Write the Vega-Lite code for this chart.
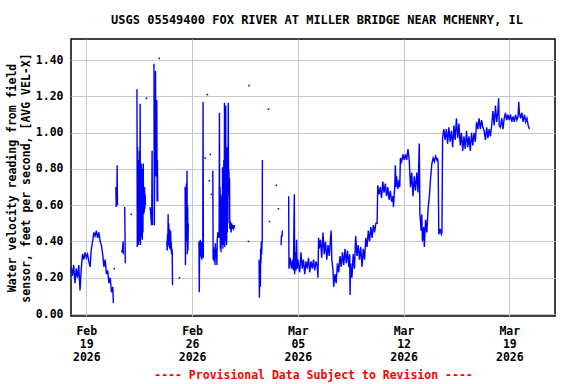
{
  "$schema": "https://vega.github.io/schema/vega-lite/v6.json",
  "autosize": "none",
  "width": 484,
  "height": 277,
  "padding": {"left": 71, "top": 39, "right": 21, "bottom": 68},
  "background": "white",
  "title": {
    "text": "USGS 05549400 FOX RIVER AT MILLER BRIDGE NEAR MCHENRY, IL",
    "font": "DejaVu Sans Mono", "fontSize": 12, "fontWeight": "bold", "color": "#000",
    "anchor": "middle", "offset": 12, "dx": 4
  },
  "config": {
    "view": {"stroke": "#000", "strokeWidth": 1.5},
    "axis": {
      "labelFont": "DejaVu Sans Mono", "labelFontWeight": "bold", "labelFontSize": 11.5, "labelColor": "#000",
      "titleFont": "DejaVu Sans Mono", "titleFontWeight": "bold", "titleFontSize": 11.5, "titleColor": "#000",
      "gridColor": "#c8c8c8", "gridWidth": 1, "domain": false, "ticks": false
    }
  },
  "datasets": {
    "series": [
      {"t":"2026-02-18T00:00Z","v":0.26,"s":1},{"t":"2026-02-18T02:00Z","v":0.21,"s":1},{"t":"2026-02-18T04:00Z","v":0.27,"s":1},{"t":"2026-02-18T06:00Z","v":0.17,"s":1},{"t":"2026-02-18T08:00Z","v":0.25,"s":1},{"t":"2026-02-18T10:00Z","v":0.20,"s":1},{"t":"2026-02-18T12:00Z","v":0.27,"s":1},{"t":"2026-02-18T14:00Z","v":0.13,"s":1},{"t":"2026-02-18T16:00Z","v":0.25,"s":1},{"t":"2026-02-18T18:00Z","v":0.33,"s":1},{"t":"2026-02-18T20:00Z","v":0.30,"s":1},{"t":"2026-02-18T22:00Z","v":0.34,"s":1},
      {"t":"2026-02-19T00:00Z","v":0.31,"s":1},{"t":"2026-02-19T02:00Z","v":0.33,"s":1},{"t":"2026-02-19T04:00Z","v":0.29,"s":1},{"t":"2026-02-19T06:00Z","v":0.26,"s":1},{"t":"2026-02-19T08:00Z","v":0.36,"s":1},{"t":"2026-02-19T10:00Z","v":0.40,"s":1},{"t":"2026-02-19T12:00Z","v":0.45,"s":1},{"t":"2026-02-19T14:00Z","v":0.43,"s":1},{"t":"2026-02-19T16:00Z","v":0.46,"s":1},{"t":"2026-02-19T18:00Z","v":0.42,"s":1},{"t":"2026-02-19T20:00Z","v":0.45,"s":1},{"t":"2026-02-19T22:00Z","v":0.40,"s":1},
      {"t":"2026-02-20T00:00Z","v":0.38,"s":1},{"t":"2026-02-20T02:00Z","v":0.33,"s":1},{"t":"2026-02-20T04:00Z","v":0.26,"s":1},{"t":"2026-02-20T06:00Z","v":0.30,"s":1},{"t":"2026-02-20T08:00Z","v":0.22,"s":1},{"t":"2026-02-20T10:00Z","v":0.24,"s":1},{"t":"2026-02-20T12:00Z","v":0.17,"s":1},{"t":"2026-02-20T14:00Z","v":0.20,"s":1},{"t":"2026-02-20T16:00Z","v":0.12,"s":1},{"t":"2026-02-20T18:00Z","v":0.15,"s":1},{"t":"2026-02-20T19:00Z","v":0.06,"s":1},
      {"t":"2026-02-20T23:00Z","v":0.70,"s":2},{"t":"2026-02-20T23:30Z","v":0.59,"s":2},{"t":"2026-02-21T00:00Z","v":0.69,"s":2},{"t":"2026-02-21T00:30Z","v":0.60,"s":2},{"t":"2026-02-21T01:00Z","v":0.82,"s":2},{"t":"2026-02-21T01:30Z","v":0.60,"s":2},
      {"t":"2026-02-21T08:00Z","v":0.35,"s":3},{"t":"2026-02-21T09:00Z","v":0.34,"s":3},{"t":"2026-02-21T10:00Z","v":0.37,"s":3},{"t":"2026-02-21T10:30Z","v":0.40,"s":3},{"t":"2026-02-21T11:00Z","v":0.33,"s":3},
      {"t":"2026-02-21T13:00Z","v":0.59,"s":4},{"t":"2026-02-21T14:00Z","v":0.28,"s":4},
      {"t":"2026-02-22T08:30Z","v":1.24,"s":5},{"t":"2026-02-22T09:00Z","v":0.37,"s":5},{"t":"2026-02-22T09:30Z","v":0.92,"s":5},{"t":"2026-02-22T10:00Z","v":0.40,"s":5},{"t":"2026-02-22T10:30Z","v":0.85,"s":5},{"t":"2026-02-22T11:00Z","v":0.38,"s":5},{"t":"2026-02-22T11:30Z","v":0.75,"s":5},{"t":"2026-02-22T12:00Z","v":0.42,"s":5},{"t":"2026-02-22T12:30Z","v":0.90,"s":5},{"t":"2026-02-22T13:00Z","v":0.40,"s":5},{"t":"2026-02-22T13:30Z","v":1.16,"s":5},{"t":"2026-02-22T14:00Z","v":0.38,"s":5},{"t":"2026-02-22T14:30Z","v":0.80,"s":5},{"t":"2026-02-22T15:00Z","v":0.45,"s":5},{"t":"2026-02-22T15:30Z","v":0.83,"s":5},{"t":"2026-02-22T16:00Z","v":0.42,"s":5},{"t":"2026-02-22T16:30Z","v":0.76,"s":5},{"t":"2026-02-22T17:00Z","v":0.41,"s":5},{"t":"2026-02-22T17:30Z","v":0.80,"s":5},{"t":"2026-02-22T18:00Z","v":0.45,"s":5},{"t":"2026-02-22T18:30Z","v":0.83,"s":5},{"t":"2026-02-22T19:00Z","v":0.55,"s":5},{"t":"2026-02-22T19:30Z","v":0.70,"s":5},{"t":"2026-02-22T20:00Z","v":0.56,"s":5},{"t":"2026-02-22T20:30Z","v":0.70,"s":5},{"t":"2026-02-22T21:00Z","v":0.58,"s":5},{"t":"2026-02-22T21:30Z","v":0.66,"s":5},{"t":"2026-02-22T22:00Z","v":0.60,"s":5},
      {"t":"2026-02-23T05:00Z","v":0.59,"s":6},{"t":"2026-02-23T06:00Z","v":0.57,"s":6},{"t":"2026-02-23T07:00Z","v":0.52,"s":6},{"t":"2026-02-23T07:30Z","v":0.49,"s":6},{"t":"2026-02-23T08:00Z","v":0.55,"s":6},{"t":"2026-02-23T08:30Z","v":0.90,"s":6},{"t":"2026-02-23T09:00Z","v":0.49,"s":6},
      {"t":"2026-02-23T11:30Z","v":1.38,"s":7},{"t":"2026-02-23T12:00Z","v":0.49,"s":7},{"t":"2026-02-23T12:30Z","v":0.75,"s":7},{"t":"2026-02-23T13:00Z","v":0.98,"s":7},{"t":"2026-02-23T13:30Z","v":0.76,"s":7},{"t":"2026-02-23T14:00Z","v":1.34,"s":7},{"t":"2026-02-23T14:30Z","v":0.78,"s":7},{"t":"2026-02-23T15:00Z","v":0.95,"s":7},{"t":"2026-02-23T15:30Z","v":0.76,"s":7},{"t":"2026-02-23T16:00Z","v":1.18,"s":7},{"t":"2026-02-23T16:30Z","v":0.62,"s":7},{"t":"2026-02-23T17:00Z","v":0.85,"s":7},{"t":"2026-02-23T17:30Z","v":0.62,"s":7},
      {"t":"2026-02-24T08:00Z","v":0.40,"s":8},{"t":"2026-02-24T08:30Z","v":0.35,"s":8},{"t":"2026-02-24T09:00Z","v":0.44,"s":8},{"t":"2026-02-24T09:30Z","v":0.37,"s":8},{"t":"2026-02-24T10:00Z","v":0.55,"s":8},{"t":"2026-02-24T10:30Z","v":0.40,"s":8},{"t":"2026-02-24T11:00Z","v":0.50,"s":8},{"t":"2026-02-24T11:30Z","v":0.38,"s":8},{"t":"2026-02-24T12:00Z","v":0.47,"s":8},{"t":"2026-02-24T12:30Z","v":0.36,"s":8},{"t":"2026-02-24T13:00Z","v":0.45,"s":8},{"t":"2026-02-24T13:30Z","v":0.38,"s":8},{"t":"2026-02-24T14:00Z","v":0.46,"s":8},{"t":"2026-02-24T14:30Z","v":0.35,"s":8},{"t":"2026-02-24T15:00Z","v":0.40,"s":8},{"t":"2026-02-24T15:30Z","v":0.33,"s":8},{"t":"2026-02-24T16:00Z","v":0.36,"s":8},{"t":"2026-02-24T16:30Z","v":0.34,"s":8},{"t":"2026-02-24T17:00Z","v":0.16,"s":8},
      {"t":"2026-02-25T13:00Z","v":0.70,"s":9},{"t":"2026-02-25T13:30Z","v":0.27,"s":9},{"t":"2026-02-25T14:00Z","v":0.62,"s":9},{"t":"2026-02-25T14:30Z","v":0.45,"s":9},{"t":"2026-02-25T15:00Z","v":0.72,"s":9},{"t":"2026-02-25T15:30Z","v":0.40,"s":9},{"t":"2026-02-25T16:00Z","v":0.79,"s":9},{"t":"2026-02-25T16:30Z","v":0.33,"s":9},{"t":"2026-02-25T17:00Z","v":0.60,"s":9},{"t":"2026-02-25T17:30Z","v":0.35,"s":9},{"t":"2026-02-25T18:00Z","v":0.50,"s":9},
      {"t":"2026-02-26T11:00Z","v":0.40,"s":10},{"t":"2026-02-26T11:30Z","v":0.12,"s":10},{"t":"2026-02-26T12:00Z","v":0.38,"s":10},{"t":"2026-02-26T12:30Z","v":0.32,"s":10},{"t":"2026-02-26T13:00Z","v":0.41,"s":10},{"t":"2026-02-26T13:30Z","v":0.33,"s":10},{"t":"2026-02-26T14:00Z","v":0.38,"s":10},{"t":"2026-02-26T14:30Z","v":0.31,"s":10},{"t":"2026-02-26T15:00Z","v":0.40,"s":10},{"t":"2026-02-26T15:30Z","v":0.30,"s":10},{"t":"2026-02-26T16:00Z","v":0.34,"s":10},{"t":"2026-02-26T17:00Z","v":0.31,"s":10},{"t":"2026-02-26T17:30Z","v":1.17,"s":10},{"t":"2026-02-26T18:00Z","v":0.31,"s":10},
      {"t":"2026-02-27T09:00Z","v":0.79,"s":11},{"t":"2026-02-27T09:30Z","v":0.30,"s":11},{"t":"2026-02-27T10:00Z","v":0.37,"s":11},{"t":"2026-02-27T11:00Z","v":0.29,"s":11},{"t":"2026-02-27T12:00Z","v":0.36,"s":11},{"t":"2026-02-27T12:30Z","v":0.27,"s":11},{"t":"2026-02-27T13:00Z","v":0.39,"s":11},{"t":"2026-02-27T14:00Z","v":0.31,"s":11},{"t":"2026-02-27T15:00Z","v":0.36,"s":11},{"t":"2026-02-27T15:30Z","v":0.27,"s":11},{"t":"2026-02-27T16:00Z","v":0.41,"s":11},{"t":"2026-02-27T17:00Z","v":0.45,"s":11},{"t":"2026-02-27T18:00Z","v":0.42,"s":11},{"t":"2026-02-27T19:00Z","v":0.44,"s":11},{"t":"2026-02-27T19:30Z","v":1.11,"s":11},{"t":"2026-02-27T20:00Z","v":0.42,"s":11},{"t":"2026-02-27T20:30Z","v":0.70,"s":11},{"t":"2026-02-27T21:00Z","v":0.36,"s":11},{"t":"2026-02-27T21:30Z","v":0.66,"s":11},{"t":"2026-02-27T22:00Z","v":0.34,"s":11},{"t":"2026-02-27T22:30Z","v":0.60,"s":11},{"t":"2026-02-27T23:00Z","v":0.38,"s":11},{"t":"2026-02-27T23:30Z","v":0.65,"s":11},
      {"t":"2026-02-28T00:00Z","v":0.40,"s":11},{"t":"2026-02-28T00:30Z","v":0.81,"s":11},{"t":"2026-02-28T01:00Z","v":0.36,"s":11},{"t":"2026-02-28T01:30Z","v":0.75,"s":11},{"t":"2026-02-28T02:00Z","v":0.42,"s":11},{"t":"2026-02-28T02:30Z","v":0.85,"s":11},{"t":"2026-02-28T03:00Z","v":0.38,"s":11},{"t":"2026-02-28T03:30Z","v":1.165,"s":11},{"t":"2026-02-28T04:00Z","v":0.37,"s":11},{"t":"2026-02-28T04:30Z","v":0.90,"s":11},{"t":"2026-02-28T05:00Z","v":0.40,"s":11},{"t":"2026-02-28T05:30Z","v":1.15,"s":11},{"t":"2026-02-28T06:00Z","v":0.45,"s":11},{"t":"2026-02-28T06:30Z","v":0.92,"s":11},{"t":"2026-02-28T07:00Z","v":0.38,"s":11},{"t":"2026-02-28T07:30Z","v":0.88,"s":11},{"t":"2026-02-28T08:00Z","v":0.45,"s":11},{"t":"2026-02-28T08:30Z","v":0.92,"s":11},{"t":"2026-02-28T09:00Z","v":0.50,"s":11},{"t":"2026-02-28T09:30Z","v":1.165,"s":11},{"t":"2026-02-28T10:00Z","v":0.66,"s":11},{"t":"2026-02-28T10:30Z","v":0.80,"s":11},{"t":"2026-02-28T11:00Z","v":0.66,"s":11},{"t":"2026-02-28T11:30Z","v":0.75,"s":11},{"t":"2026-02-28T12:00Z","v":0.47,"s":11},{"t":"2026-02-28T13:00Z","v":0.51,"s":11},{"t":"2026-02-28T14:00Z","v":0.45,"s":11},{"t":"2026-02-28T15:00Z","v":0.50,"s":11},{"t":"2026-02-28T16:00Z","v":0.47,"s":11},{"t":"2026-02-28T17:00Z","v":0.49,"s":11},{"t":"2026-02-28T18:00Z","v":0.47,"s":11},{"t":"2026-02-28T19:00Z","v":0.48,"s":11},{"t":"2026-02-28T19:30Z","v":0.49,"s":11},
      {"t":"2026-03-02T10:30Z","v":0.30,"s":12},{"t":"2026-03-02T11:00Z","v":0.09,"s":12},{"t":"2026-03-02T11:30Z","v":0.22,"s":12},{"t":"2026-03-02T12:00Z","v":0.26,"s":12},{"t":"2026-03-02T12:30Z","v":0.15,"s":12},{"t":"2026-03-02T13:00Z","v":0.36,"s":12},{"t":"2026-03-02T13:30Z","v":0.28,"s":12},{"t":"2026-03-02T14:00Z","v":0.40,"s":12},{"t":"2026-03-02T14:30Z","v":0.33,"s":12},{"t":"2026-03-02T15:00Z","v":0.38,"s":12},{"t":"2026-03-02T15:30Z","v":0.41,"s":12},{"t":"2026-03-02T15:45Z","v":0.85,"s":12},
      {"t":"2026-03-03T21:30Z","v":0.38,"s":13},{"t":"2026-03-03T22:00Z","v":0.43,"s":13},{"t":"2026-03-03T23:00Z","v":0.43,"s":13},{"t":"2026-03-03T23:30Z","v":0.46,"s":13},
      {"t":"2026-03-04T09:30Z","v":0.65,"s":14},{"t":"2026-03-04T10:00Z","v":0.25,"s":14},{"t":"2026-03-04T12:00Z","v":0.31,"s":14},{"t":"2026-03-04T14:00Z","v":0.25,"s":14},{"t":"2026-03-04T16:00Z","v":0.30,"s":14},{"t":"2026-03-04T17:00Z","v":0.24,"s":14},{"t":"2026-03-04T18:30Z","v":0.66,"s":14},{"t":"2026-03-04T19:00Z","v":0.22,"s":14},{"t":"2026-03-04T20:00Z","v":0.34,"s":14},{"t":"2026-03-04T21:00Z","v":0.24,"s":14},{"t":"2026-03-04T22:00Z","v":0.41,"s":14},{"t":"2026-03-04T23:00Z","v":0.25,"s":14},
      {"t":"2026-03-05T00:00Z","v":0.30,"s":14},{"t":"2026-03-05T03:00Z","v":0.23,"s":14},{"t":"2026-03-05T05:00Z","v":0.34,"s":14},{"t":"2026-03-05T07:00Z","v":0.25,"s":14},{"t":"2026-03-05T09:00Z","v":0.30,"s":14},{"t":"2026-03-05T11:00Z","v":0.22,"s":14},{"t":"2026-03-05T13:00Z","v":0.29,"s":14},{"t":"2026-03-05T15:00Z","v":0.25,"s":14},{"t":"2026-03-05T17:00Z","v":0.31,"s":14},{"t":"2026-03-05T19:00Z","v":0.23,"s":14},{"t":"2026-03-05T21:00Z","v":0.29,"s":14},{"t":"2026-03-05T23:00Z","v":0.25,"s":14},
      {"t":"2026-03-06T01:00Z","v":0.30,"s":14},{"t":"2026-03-06T03:00Z","v":0.24,"s":14},{"t":"2026-03-06T05:00Z","v":0.29,"s":14},{"t":"2026-03-06T07:00Z","v":0.26,"s":14},{"t":"2026-03-06T08:00Z","v":0.20,"s":14},{"t":"2026-03-06T09:00Z","v":0.42,"s":14},{"t":"2026-03-06T10:00Z","v":0.36,"s":14},{"t":"2026-03-06T12:00Z","v":0.41,"s":14},{"t":"2026-03-06T14:00Z","v":0.31,"s":14},{"t":"2026-03-06T16:00Z","v":0.45,"s":14},{"t":"2026-03-06T18:00Z","v":0.33,"s":14},{"t":"2026-03-06T20:00Z","v":0.40,"s":14},{"t":"2026-03-06T22:00Z","v":0.30,"s":14},
      {"t":"2026-03-07T00:00Z","v":0.38,"s":14},{"t":"2026-03-07T02:00Z","v":0.32,"s":14},{"t":"2026-03-07T04:00Z","v":0.42,"s":14},{"t":"2026-03-07T05:00Z","v":0.46,"s":14},{"t":"2026-03-07T06:00Z","v":0.30,"s":14},{"t":"2026-03-07T08:00Z","v":0.24,"s":14},{"t":"2026-03-07T09:00Z","v":0.15,"s":14},{"t":"2026-03-07T11:00Z","v":0.22,"s":14},{"t":"2026-03-07T13:00Z","v":0.17,"s":14},{"t":"2026-03-07T15:00Z","v":0.28,"s":14},{"t":"2026-03-07T17:00Z","v":0.23,"s":14},{"t":"2026-03-07T19:00Z","v":0.32,"s":14},{"t":"2026-03-07T21:00Z","v":0.26,"s":14},{"t":"2026-03-07T23:00Z","v":0.34,"s":14},
      {"t":"2026-03-08T01:00Z","v":0.27,"s":14},{"t":"2026-03-08T03:00Z","v":0.36,"s":14},{"t":"2026-03-08T05:00Z","v":0.28,"s":14},{"t":"2026-03-08T07:00Z","v":0.35,"s":14},{"t":"2026-03-08T09:00Z","v":0.26,"s":14},{"t":"2026-03-08T10:30Z","v":0.33,"s":14},{"t":"2026-03-08T11:00Z","v":0.105,"s":14},{"t":"2026-03-08T12:00Z","v":0.28,"s":14},{"t":"2026-03-08T14:00Z","v":0.20,"s":14},{"t":"2026-03-08T16:00Z","v":0.33,"s":14},{"t":"2026-03-08T18:00Z","v":0.25,"s":14},{"t":"2026-03-08T20:00Z","v":0.43,"s":14},{"t":"2026-03-08T22:00Z","v":0.32,"s":14},
      {"t":"2026-03-09T00:00Z","v":0.38,"s":14},{"t":"2026-03-09T02:00Z","v":0.30,"s":14},{"t":"2026-03-09T04:00Z","v":0.37,"s":14},{"t":"2026-03-09T06:00Z","v":0.26,"s":14},{"t":"2026-03-09T08:00Z","v":0.36,"s":14},{"t":"2026-03-09T10:00Z","v":0.30,"s":14},{"t":"2026-03-09T12:00Z","v":0.42,"s":14},{"t":"2026-03-09T14:00Z","v":0.37,"s":14},{"t":"2026-03-09T16:00Z","v":0.46,"s":14},{"t":"2026-03-09T18:00Z","v":0.40,"s":14},{"t":"2026-03-09T20:00Z","v":0.48,"s":14},{"t":"2026-03-09T22:00Z","v":0.42,"s":14},
      {"t":"2026-03-10T00:00Z","v":0.49,"s":14},{"t":"2026-03-10T02:00Z","v":0.45,"s":14},{"t":"2026-03-10T04:00Z","v":0.50,"s":14},{"t":"2026-03-10T06:00Z","v":0.50,"s":14},{"t":"2026-03-10T07:00Z","v":0.71,"s":14},{"t":"2026-03-10T09:00Z","v":0.66,"s":14},{"t":"2026-03-10T11:00Z","v":0.70,"s":14},{"t":"2026-03-10T13:00Z","v":0.64,"s":14},{"t":"2026-03-10T15:00Z","v":0.73,"s":14},{"t":"2026-03-10T17:00Z","v":0.67,"s":14},{"t":"2026-03-10T19:00Z","v":0.72,"s":14},{"t":"2026-03-10T21:00Z","v":0.65,"s":14},{"t":"2026-03-10T23:00Z","v":0.70,"s":14},
      {"t":"2026-03-11T01:00Z","v":0.63,"s":14},{"t":"2026-03-11T03:00Z","v":0.68,"s":14},{"t":"2026-03-11T05:00Z","v":0.62,"s":14},{"t":"2026-03-11T07:00Z","v":0.65,"s":14},{"t":"2026-03-11T08:00Z","v":0.59,"s":14},{"t":"2026-03-11T10:00Z","v":0.70,"s":14},{"t":"2026-03-11T11:00Z","v":0.82,"s":14},{"t":"2026-03-11T12:00Z","v":0.70,"s":14},{"t":"2026-03-11T13:00Z","v":0.76,"s":14},{"t":"2026-03-11T15:00Z","v":0.69,"s":14},{"t":"2026-03-11T17:00Z","v":0.74,"s":14},{"t":"2026-03-11T18:00Z","v":0.70,"s":14},{"t":"2026-03-11T19:00Z","v":0.86,"s":14},{"t":"2026-03-11T21:00Z","v":0.84,"s":14},{"t":"2026-03-11T23:00Z","v":0.88,"s":14},
      {"t":"2026-03-12T01:00Z","v":0.85,"s":14},{"t":"2026-03-12T03:00Z","v":0.88,"s":14},{"t":"2026-03-12T05:00Z","v":0.85,"s":14},{"t":"2026-03-12T07:00Z","v":0.91,"s":14},{"t":"2026-03-12T09:00Z","v":0.85,"s":14},{"t":"2026-03-12T11:00Z","v":0.70,"s":14},{"t":"2026-03-12T13:00Z","v":0.78,"s":14},{"t":"2026-03-12T15:00Z","v":0.65,"s":14},{"t":"2026-03-12T17:00Z","v":0.76,"s":14},{"t":"2026-03-12T19:00Z","v":0.68,"s":14},{"t":"2026-03-12T21:00Z","v":0.78,"s":14},{"t":"2026-03-12T23:00Z","v":0.67,"s":14},
      {"t":"2026-03-13T01:00Z","v":0.94,"s":14},{"t":"2026-03-13T02:00Z","v":0.55,"s":14},{"t":"2026-03-13T04:00Z","v":0.46,"s":14},{"t":"2026-03-13T05:00Z","v":0.55,"s":14},{"t":"2026-03-13T06:00Z","v":0.40,"s":14},{"t":"2026-03-13T08:00Z","v":0.48,"s":14},{"t":"2026-03-13T09:00Z","v":0.37,"s":14},{"t":"2026-03-13T11:00Z","v":0.52,"s":14},{"t":"2026-03-13T13:00Z","v":0.45,"s":14},{"t":"2026-03-13T15:00Z","v":0.58,"s":14},{"t":"2026-03-13T17:00Z","v":0.65,"s":14},{"t":"2026-03-13T19:00Z","v":0.75,"s":14},{"t":"2026-03-13T21:00Z","v":0.83,"s":14},{"t":"2026-03-13T23:00Z","v":0.86,"s":14},
      {"t":"2026-03-14T01:00Z","v":0.84,"s":14},{"t":"2026-03-14T03:00Z","v":0.87,"s":14},{"t":"2026-03-14T05:00Z","v":0.85,"s":14},{"t":"2026-03-14T06:00Z","v":0.86,"s":14},{"t":"2026-03-14T07:00Z","v":0.83,"s":14},{"t":"2026-03-14T08:00Z","v":0.44,"s":14},{"t":"2026-03-14T10:00Z","v":0.47,"s":14},{"t":"2026-03-14T12:00Z","v":0.44,"s":14},{"t":"2026-03-14T13:00Z","v":0.45,"s":14},{"t":"2026-03-14T14:00Z","v":0.97,"s":14},{"t":"2026-03-14T16:00Z","v":1.02,"s":14},{"t":"2026-03-14T18:00Z","v":0.96,"s":14},{"t":"2026-03-14T20:00Z","v":1.02,"s":14},{"t":"2026-03-14T22:00Z","v":0.94,"s":14},
      {"t":"2026-03-15T00:00Z","v":1.03,"s":14},{"t":"2026-03-15T02:00Z","v":0.95,"s":14},{"t":"2026-03-15T04:00Z","v":1.01,"s":14},{"t":"2026-03-15T06:00Z","v":0.92,"s":14},{"t":"2026-03-15T08:00Z","v":1.04,"s":14},{"t":"2026-03-15T10:00Z","v":0.96,"s":14},{"t":"2026-03-15T12:00Z","v":1.08,"s":14},{"t":"2026-03-15T14:00Z","v":0.97,"s":14},{"t":"2026-03-15T16:00Z","v":1.05,"s":14},{"t":"2026-03-15T18:00Z","v":0.93,"s":14},{"t":"2026-03-15T20:00Z","v":1.00,"s":14},{"t":"2026-03-15T22:00Z","v":0.90,"s":14},
      {"t":"2026-03-16T00:00Z","v":0.98,"s":14},{"t":"2026-03-16T02:00Z","v":0.91,"s":14},{"t":"2026-03-16T04:00Z","v":1.01,"s":14},{"t":"2026-03-16T06:00Z","v":0.92,"s":14},{"t":"2026-03-16T08:00Z","v":0.98,"s":14},{"t":"2026-03-16T10:00Z","v":0.90,"s":14},{"t":"2026-03-16T12:00Z","v":1.00,"s":14},{"t":"2026-03-16T14:00Z","v":0.93,"s":14},{"t":"2026-03-16T16:00Z","v":1.00,"s":14},{"t":"2026-03-16T18:00Z","v":0.95,"s":14},{"t":"2026-03-16T20:00Z","v":1.06,"s":14},{"t":"2026-03-16T22:00Z","v":1.02,"s":14},
      {"t":"2026-03-17T00:00Z","v":1.08,"s":14},{"t":"2026-03-17T02:00Z","v":1.02,"s":14},{"t":"2026-03-17T04:00Z","v":1.07,"s":14},{"t":"2026-03-17T06:00Z","v":1.03,"s":14},{"t":"2026-03-17T08:00Z","v":1.01,"s":14},{"t":"2026-03-17T10:00Z","v":0.96,"s":14},{"t":"2026-03-17T12:00Z","v":1.03,"s":14},{"t":"2026-03-17T14:00Z","v":0.97,"s":14},{"t":"2026-03-17T16:00Z","v":1.02,"s":14},{"t":"2026-03-17T18:00Z","v":0.98,"s":14},{"t":"2026-03-17T20:00Z","v":1.04,"s":14},{"t":"2026-03-17T22:00Z","v":1.12,"s":14},
      {"t":"2026-03-18T00:00Z","v":1.04,"s":14},{"t":"2026-03-18T02:00Z","v":1.15,"s":14},{"t":"2026-03-18T04:00Z","v":1.06,"s":14},{"t":"2026-03-18T06:00Z","v":1.12,"s":14},{"t":"2026-03-18T07:00Z","v":1.19,"s":14},{"t":"2026-03-18T08:00Z","v":1.04,"s":14},{"t":"2026-03-18T10:00Z","v":1.03,"s":14},{"t":"2026-03-18T12:00Z","v":1.08,"s":14},{"t":"2026-03-18T14:00Z","v":1.02,"s":14},{"t":"2026-03-18T16:00Z","v":1.08,"s":14},{"t":"2026-03-18T18:00Z","v":1.11,"s":14},{"t":"2026-03-18T20:00Z","v":1.07,"s":14},{"t":"2026-03-18T22:00Z","v":1.10,"s":14},
      {"t":"2026-03-19T00:00Z","v":1.07,"s":14},{"t":"2026-03-19T02:00Z","v":1.10,"s":14},{"t":"2026-03-19T04:00Z","v":1.06,"s":14},{"t":"2026-03-19T06:00Z","v":1.09,"s":14},{"t":"2026-03-19T08:00Z","v":1.06,"s":14},{"t":"2026-03-19T10:00Z","v":1.10,"s":14},{"t":"2026-03-19T12:00Z","v":1.07,"s":14},{"t":"2026-03-19T14:00Z","v":1.09,"s":14},{"t":"2026-03-19T15:00Z","v":1.17,"s":14},{"t":"2026-03-19T16:00Z","v":1.11,"s":14},{"t":"2026-03-19T18:00Z","v":1.08,"s":14},{"t":"2026-03-19T20:00Z","v":1.11,"s":14},{"t":"2026-03-19T22:00Z","v":1.06,"s":14},
      {"t":"2026-03-20T00:00Z","v":1.10,"s":14},{"t":"2026-03-20T02:00Z","v":1.06,"s":14},{"t":"2026-03-20T04:00Z","v":1.08,"s":14},{"t":"2026-03-20T06:00Z","v":1.04,"s":14},{"t":"2026-03-20T08:00Z","v":1.02,"s":14}
    ],
    "dots": [
      {"t":"2026-02-20T20:30Z","v":0.25},{"t":"2026-02-21T23:30Z","v":0.55},{"t":"2026-02-22T23:30Z","v":1.19},{"t":"2026-02-23T20:00Z","v":1.41},{"t":"2026-02-25T04:00Z","v":0.20},{"t":"2026-02-26T21:00Z","v":0.86},{"t":"2026-02-27T00:20Z","v":1.21},{"t":"2026-02-27T03:30Z","v":0.735},{"t":"2026-02-27T05:00Z","v":0.88},{"t":"2026-02-27T06:40Z","v":0.66},{"t":"2026-03-01T17:30Z","v":0.40},{"t":"2026-03-01T18:30Z","v":1.26},{"t":"2026-03-03T01:20Z","v":1.13},{"t":"2026-03-03T03:00Z","v":0.51},{"t":"2026-03-03T14:00Z","v":0.71},{"t":"2026-03-03T17:10Z","v":0.58}
    ]
  },
  "encoding": {
    "x": {
      "field": "t", "type": "temporal",
      "scale": {"type": "utc", "domain": [{"year": 2026, "month": 2, "date": 17, "hours": 23, "minutes": 42, "utc": true}, {"year": 2026, "month": 3, "date": 22, "hours": 0, "minutes": 36, "utc": true}]},
      "axis": {
        "title": "---- Provisional Data Subject to Revision ----",
        "titleColor": "#ff0000", "titlePadding": 7,
        "values": [
          {"year": 2026, "month": 2, "date": 19, "utc": true},
          {"year": 2026, "month": 2, "date": 26, "utc": true},
          {"year": 2026, "month": 3, "date": 5, "utc": true},
          {"year": 2026, "month": 3, "date": 12, "utc": true},
          {"year": 2026, "month": 3, "date": 19, "utc": true}
        ],
        "labelExpr": "[utcFormat(datum.value, '%b'), utcFormat(datum.value, '%d'), utcFormat(datum.value, '%Y')]",
        "labelLineHeight": 13, "labelPadding": 9, "grid": true, "labelFlush": false, "labelOverlap": false
      }
    },
    "y": {
      "field": "v", "type": "quantitative",
      "scale": {"domain": [-0.011, 1.517], "nice": false, "zero": false},
      "axis": {
        "title": ["Water velocity reading from field", "sensor, feet per second, [AVG VEL-X]"],
        "titleLineHeight": 13.5, "titlePadding": 4,
        "values": [0, 0.2, 0.4, 0.6, 0.8, 1.0, 1.2, 1.4],
        "format": ".2f", "labelPadding": 8, "grid": true
      }
    }
  },
  "layer": [
    {
      "data": {"name": "series"},
      "mark": {"type": "line", "color": "#0000ff", "strokeWidth": 1.4, "clip": true},
      "encoding": {"detail": {"field": "s", "type": "nominal"}}
    },
    {
      "data": {"name": "dots"},
      "mark": {"type": "square", "color": "#0000ff", "size": 2.5, "opacity": 1, "filled": true}
    }
  ]
}
